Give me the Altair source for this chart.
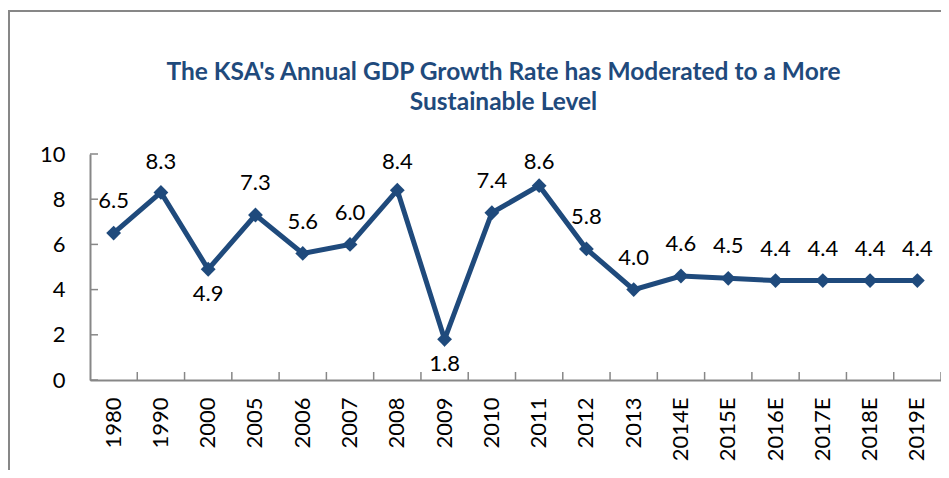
import altair as alt
import pandas as pd

categories = ["1980", "1990", "2000", "2005", "2006", "2007", "2008", "2009", "2010",
              "2011", "2012", "2013", "2014E", "2015E", "2016E", "2017E", "2018E", "2019E"]
growth = [6.5, 8.3, 4.9, 7.3, 5.6, 6.0, 8.4, 1.8, 7.4, 8.6, 5.8, 4.0, 4.6, 4.5, 4.4, 4.4, 4.4, 4.4]
y_ticks = [0, 2, 4, 6, 8, 10]
labels_below = ["2000", "2009"]

TITLE = ["The KSA's Annual GDP Growth Rate has Moderated to a More", "Sustainable Level"]
FONT = "Lato"
BLUE = "#1F4A7C"
GRAY = "#878787"

W, H = 851, 226

df = pd.DataFrame({"cat": categories, "val": growth})
df["pos"] = ["below" if c in labels_below else "above" for c in categories]
ticks_df = pd.DataFrame({"t": y_ticks})

xscale = alt.Scale(type="band", domain=categories, paddingInner=0, paddingOuter=0)
yscale = alt.Scale(domain=[0, 10])

x_enc = alt.X("cat:N", scale=xscale, sort=categories,
              axis=alt.Axis(title=None, labelAngle=-90, labelFontSize=22, labelFont=FONT,
                            labelColor="#000000", labelPadding=17, ticks=False,
                            domainColor=GRAY, domainWidth=2, grid=False,
                            labelAlign="right", labelBaseline="middle"))
y_enc = alt.Y("val:Q", scale=yscale,
              axis=alt.Axis(title=None, values=y_ticks, labelFontSize=22, labelFont=FONT,
                            labelColor="#000000", labelPadding=25, ticks=False,
                            domainColor=GRAY, domainWidth=2, grid=False))

base = alt.Chart(df)
xs = alt.X("cat:N", scale=xscale, sort=categories)

line = base.mark_line(color=BLUE, strokeWidth=5).encode(x=x_enc, y=y_enc)
pts = base.mark_point(shape="diamond", filled=True, size=220, color=BLUE, opacity=1).encode(
    x=xs, y=alt.Y("val:Q", scale=yscale))

labels = base.transform_calculate(
    ylab="datum.pos == 'above' ? min(datum.val + 1.1, 9.35) : datum.val - 1.4"
).mark_text(font=FONT, fontSize=22, color="#000000", baseline="alphabetic").encode(
    x=xs, y=alt.Y("ylab:Q", scale=yscale),
    text=alt.Text("val:Q", format=".1f"))

ytick_rules = alt.Chart(ticks_df).mark_rule(color=GRAY, strokeWidth=1.5).encode(
    y=alt.Y("t:Q", scale=yscale), x=alt.value(0), x2=alt.value(8))
xtick_rules = base.mark_rule(color=GRAY, strokeWidth=1.5).encode(
    x=alt.X("cat:N", scale=xscale, sort=categories, bandPosition=1),
    y=alt.value(H), y2=alt.value(H - 8))

frame = alt.Chart(pd.DataFrame({"f": [0]})).mark_rect(
    fillOpacity=0, stroke=GRAY, strokeWidth=2).encode(
    x=alt.value(-81), x2=alt.value(1000), y=alt.value(-143), y2=alt.value(600))

chart = alt.layer(frame, ytick_rules, xtick_rules, line, pts, labels).properties(
    width=W, height=H,
    autosize=alt.AutoSizeParams(type="none"),
    padding={"left": 82, "top": 146, "right": 0, "bottom": 90},
    title=alt.TitleParams(TITLE, font=FONT, fontSize=24.5, fontWeight="bold", color=BLUE,
                          anchor="middle", frame="group", baseline="alphabetic",
                          lineHeight=30, offset=-124, dx=-12),
).configure_view(stroke=None)

chart.save("out.html", embed_options={"renderer": "svg", "actions": False})
